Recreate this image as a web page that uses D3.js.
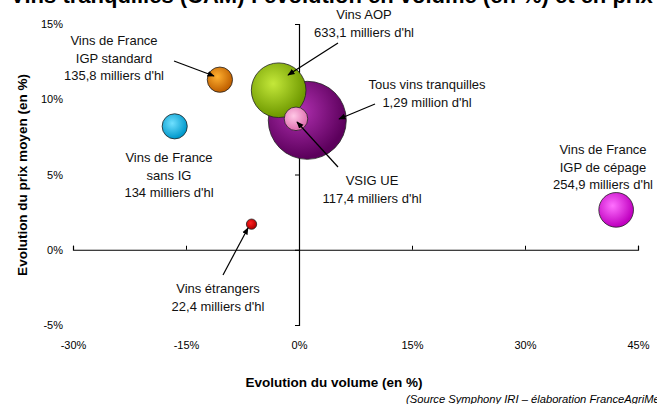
<!DOCTYPE html>
<html>
<head>
<meta charset="utf-8">
<script src="https://cdn.jsdelivr.net/npm/d3@7"></script>
<style>
  body { margin: 0; background: #fff; }
  svg { display: block; font-family: "Liberation Sans", Arial, sans-serif; }
</style>
</head>
<body>
<div id="chart"></div>
<script>
// Données
const categories = ["Tous vins tranquilles", "Vins AOP", "VSIG UE", "Vins de France IGP standard",
  "Vins de France sans IG", "Vins étrangers", "Vins de France IGP de cépage"];
const volumeEvol = [1.1, -2.7, -0.4, -10.5, -16.5, -6.3, 42.1];   // % volume
const prixEvol = [8.6, 10.6, 8.7, 11.3, 8.2, 1.7, 2.65];           // % prix moyen
const volumes = [1290, 633.1, 117.4, 135.8, 134, 22.4, 254.9];    // milliers d'hl
const labelLines = [
  ["Tous vins tranquilles", "1,29 million d'hl"],
  ["Vins AOP", "633,1 milliers d'hl"],
  ["VSIG UE", "117,4 milliers d'hl"],
  ["Vins de France", "IGP standard", "135,8 milliers d'hl"],
  ["Vins de France", "sans IG", "134 milliers d'hl"],
  ["Vins étrangers", "22,4 milliers d'hl"],
  ["Vins de France", "IGP de cépage", "254,9 milliers d'hl"]
];
const xTicks = [-30, -15, 0, 15, 30, 45];
const yTicks = [-5, 0, 5, 10, 15];

// Couleurs (clair, foncé) pour les dégradés
const colors = [
  ["#b030b0", "#5c005c"],
  ["#c4e83a", "#6f9900"],
  ["#ffc8e6", "#e070b0"],
  ["#ffb030", "#c06000"],
  ["#70e0ff", "#0099cc"],
  ["#ff2020", "#b00000"],
  ["#ff70ff", "#c000c0"]
];

// Position des étiquettes (centre x, ligne de base y) et flèches
const labelPos = [[427, 89], [364, 19], [372, 185], [114, 45], [169, 162], [218, 293], [603, 154]];
const arrows = [[375, 104, 339, 119], [338, 43, 288, 75], [338, 167, 297, 122], [174, 61, 214, 76], null, [223, 275, 248, 228], null];

const width = 657, height = 404;

const svg = d3.select("#chart").append("svg")
  .attr("width", width)
  .attr("height", height);

svg.append("rect").attr("width", width).attr("height", height).attr("fill", "white");

// Échelles
const x = d3.scaleLinear().domain([-30, 45]).range([73, 638]);
const y = d3.scaleLinear().domain([-5, 15]).range([325, 24]);
const r = d3.scaleSqrt().domain([0, 1290]).range([0, 39]);

// Titre (coupé en haut de l'image)
svg.append("text")
  .attr("x", 370).attr("y", 3)
  .attr("text-anchor", "middle")
  .style("font-size", "22px").style("font-weight", "bold")
  .text("Vins tranquilles (CAM) : évolution en volume (en %) et en prix moyen");

// Dégradés
const defs = svg.append("defs");
colors.forEach((c, i) => {
  const g = defs.append("radialGradient")
    .attr("id", "grad" + i)
    .attr("cx", "40%").attr("cy", "38%").attr("r", "60%");
  g.append("stop").attr("offset", "0%").attr("stop-color", c[0]);
  g.append("stop").attr("offset", "100%").attr("stop-color", c[1]);
});
defs.append("marker")
  .attr("id", "arrow")
  .attr("viewBox", "0 0 10 10")
  .attr("refX", 9).attr("refY", 5)
  .attr("markerWidth", 6).attr("markerHeight", 6)
  .attr("orient", "auto")
  .append("path").attr("d", "M0,1 L10,5 L0,9 Z").attr("fill", "black");

// Axes
svg.append("g")
  .attr("transform", `translate(0,${y(0)})`)
  .call(d3.axisBottom(x).tickValues(xTicks).tickSize(-4).tickFormat(""))
  .call(g => g.select(".domain").attr("stroke", "black").attr("stroke-width", 1.2));

svg.append("g")
  .attr("transform", `translate(${x(0)},0)`)
  .call(d3.axisLeft(y).tickValues(yTicks).tickSize(4).tickFormat(""))
  .call(g => g.select(".domain").attr("stroke", "black").attr("stroke-width", 1.2));

// Étiquettes des graduations
svg.append("g")
  .attr("transform", "translate(0,338)")
  .call(d3.axisBottom(x).tickValues(xTicks).tickSize(0).tickFormat(d => d + "%"))
  .call(g => g.select(".domain").remove())
  .call(g => g.selectAll("text").style("font-size", "11px").style("font-family", "Liberation Sans, Arial").attr("fill", "black"));

svg.append("g")
  .attr("transform", "translate(66,0)")
  .call(d3.axisLeft(y).tickValues(yTicks).tickSize(0).tickFormat(d => d + "%"))
  .call(g => g.select(".domain").remove())
  .call(g => g.selectAll("text").style("font-size", "11px").style("font-family", "Liberation Sans, Arial").attr("fill", "black"));

// Bulles (plus grosses d'abord)
const idx = d3.range(categories.length).sort((a, b) => volumes[b] - volumes[a]);
svg.append("g").selectAll("circle")
  .data(idx)
  .join("circle")
  .attr("cx", i => x(volumeEvol[i]))
  .attr("cy", i => y(prixEvol[i]))
  .attr("r", i => r(volumes[i]))
  .attr("fill", i => `url(#grad${i})`)
  .attr("stroke", "#222")
  .attr("stroke-width", 0.8);

// Flèches
svg.append("g").selectAll("line")
  .data(arrows.filter(a => a))
  .join("line")
  .attr("x1", a => a[0]).attr("y1", a => a[1])
  .attr("x2", a => a[2]).attr("y2", a => a[3])
  .attr("stroke", "black").attr("stroke-width", 1.2)
  .attr("marker-end", "url(#arrow)");

// Étiquettes des bulles
labelLines.forEach((lines, i) => {
  const t = svg.append("text")
    .attr("text-anchor", "middle")
    .style("font-size", "13px")
    .attr("fill", "#111");
  lines.forEach((l, j) => {
    t.append("tspan")
      .attr("x", labelPos[i][0])
      .attr("y", labelPos[i][1] + j * 17.5)
      .text(l);
  });
});

// Titres des axes
svg.append("text")
  .attr("x", 334).attr("y", 387)
  .attr("text-anchor", "middle")
  .style("font-size", "13.5px").style("font-weight", "bold")
  .text("Evolution du volume (en %)");

svg.append("text")
  .attr("transform", "translate(27,175) rotate(-90)")
  .attr("text-anchor", "middle")
  .style("font-size", "13.5px").style("font-weight", "bold")
  .text("Evolution du prix moyen (en %)");

// Source
svg.append("text")
  .attr("x", 406).attr("y", 403)
  .style("font-size", "11.2px").style("font-style", "italic")
  .text("(Source Symphony IRI – élaboration FranceAgriMer)");
</script>
</body>
</html>
